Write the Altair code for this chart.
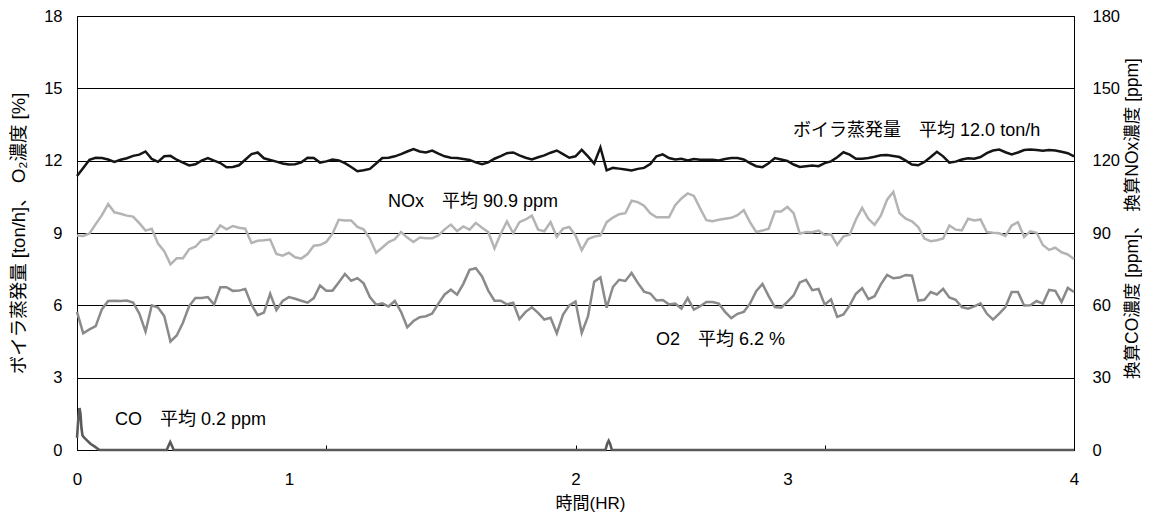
import altair as alt
import pandas as pd

# ---- data ----
hours = [round(i * 0.025, 3) for i in range(161)]

steam_ton_h = [
    11.36, 11.70, 12.04, 12.12, 12.11, 12.05, 11.95, 12.04, 12.10, 12.20,
    12.25, 12.38, 12.07, 11.95, 12.18, 12.20, 12.04, 11.92, 11.80, 11.85,
    12.00, 12.11, 12.00, 11.90, 11.73, 11.74, 11.81, 12.04, 12.27, 12.34,
    12.10, 12.03, 11.96, 11.88, 11.84, 11.85, 11.93, 12.12, 12.11, 11.92, 11.97,
    12.05, 12.01, 11.90, 11.74, 11.56, 11.60, 11.66, 11.88, 12.11, 12.12,
    12.18, 12.27, 12.38, 12.48, 12.38, 12.34, 12.42, 12.29, 12.18, 12.12,
    12.11, 12.07, 12.03, 11.93, 11.85, 11.93, 12.08, 12.19, 12.31, 12.34,
    12.22, 12.12, 12.05, 12.14, 12.22, 12.33, 12.42, 12.27, 12.12, 12.18,
    12.45, 12.18, 11.88, 12.55, 11.60, 11.70, 11.67, 11.63, 11.59, 11.66,
    11.70, 11.86, 12.18, 12.26, 12.11, 12.05, 12.08, 12.01, 12.07, 12.04,
    12.04, 12.04, 12.01, 12.07, 12.11, 12.11, 12.05, 11.90, 11.77, 11.73,
    11.89, 12.11, 12.05, 11.99, 11.84, 11.74, 11.77, 11.80, 11.77, 11.90,
    11.97, 12.14, 12.35, 12.25, 12.08, 12.08, 12.11, 12.16, 12.22, 12.23,
    12.19, 12.15, 12.00, 11.84, 11.81, 11.95, 12.15, 12.37, 12.18, 11.92,
    11.96, 12.05, 12.10, 12.08, 12.15, 12.31, 12.42, 12.46, 12.35, 12.26,
    12.34, 12.44, 12.46, 12.44, 12.41, 12.44, 12.42, 12.37, 12.31, 12.18,
]

nox_ppm = [
    89.0, 88.8, 89.8, 93.7, 97.4, 102.0, 98.6, 98.0, 97.2, 96.8,
    94.1, 91.0, 91.8, 85.6, 82.5, 77.0, 79.5, 79.5, 83.3, 84.3,
    87.0, 87.4, 89.5, 93.1, 91.5, 92.9, 92.2, 91.8, 85.9, 86.8,
    87.0, 87.3, 81.3, 80.6, 81.8, 79.9, 79.4, 81.3, 84.7, 85.0, 86.3,
    89.7, 95.5, 95.2, 95.2, 92.5, 91.5, 87.7, 81.8, 84.0, 86.2,
    87.4, 90.4, 88.1, 86.3, 88.1, 87.8, 87.8, 89.0, 91.5, 93.5,
    90.8, 92.7, 91.4, 94.2, 92.2, 90.4, 83.6, 89.7, 94.8, 89.9,
    94.5, 95.6, 97.2, 91.4, 90.7, 94.5, 88.4, 91.8, 92.5, 89.0,
    82.9, 87.5, 88.5, 89.0, 94.5, 96.4, 97.8, 98.2, 103.4, 102.8,
    101.3, 98.2, 96.5, 96.5, 96.5, 101.5, 104.3, 106.4, 105.4, 100.2,
    95.3, 94.9, 95.5, 95.9, 96.3, 97.4, 99.5, 94.5, 90.4, 91.0,
    91.8, 98.9, 98.9, 100.8, 98.2, 89.7, 90.4, 90.3, 91.0, 89.2,
    89.5, 85.0, 88.6, 89.3, 95.6, 100.4, 95.9, 93.4, 97.2, 103.8,
    107.0, 98.2, 95.9, 94.8, 92.5, 87.7, 86.6, 87.0, 87.7, 93.1,
    91.4, 91.1, 95.9, 95.2, 95.6, 90.4, 90.1, 89.9, 88.8, 93.1,
    94.5, 88.4, 90.7, 90.1, 85.0, 83.0, 83.9, 82.0, 81.1, 79.2,
]

o2_pct = [
    5.73, 4.84, 5.00, 5.14, 5.84, 6.18, 6.19, 6.18, 6.20, 6.12,
    5.66, 4.91, 6.00, 5.91, 5.56, 4.50, 4.75, 5.28, 5.97, 6.30,
    6.30, 6.34, 6.03, 6.75, 6.75, 6.60, 6.61, 6.68, 6.03, 5.59,
    5.70, 6.48, 5.80, 6.18, 6.34, 6.27, 6.19, 6.11, 6.30, 6.82, 6.61,
    6.61, 6.95, 7.30, 7.02, 7.13, 6.91, 6.34, 6.03, 6.08, 5.95,
    6.18, 5.73, 5.09, 5.35, 5.51, 5.55, 5.66, 6.07, 6.45, 6.65,
    6.44, 6.89, 7.47, 7.54, 7.20, 6.61, 6.19, 6.19, 6.04, 6.11,
    5.43, 5.73, 5.92, 5.69, 5.41, 5.48, 4.84, 5.62, 6.00, 6.16,
    4.85, 5.54, 6.98, 7.16, 5.90, 6.76, 7.06, 7.01, 7.34, 6.93,
    6.57, 6.49, 6.20, 6.22, 6.04, 6.07, 5.86, 6.30, 5.82, 5.96,
    6.14, 6.14, 6.07, 5.73, 5.47, 5.65, 5.73, 6.07, 6.59, 6.89,
    6.38, 5.93, 5.90, 6.14, 6.41, 6.95, 7.06, 6.63, 6.68, 6.03,
    6.25, 5.52, 5.62, 6.00, 6.48, 6.71, 6.26, 6.38, 6.87, 7.26,
    7.12, 7.15, 7.26, 7.23, 6.20, 6.23, 6.55, 6.45, 6.68, 6.33,
    6.23, 5.93, 5.86, 5.96, 6.08, 5.66, 5.41, 5.66, 5.93, 6.55,
    6.55, 5.99, 6.00, 6.18, 6.07, 6.64, 6.60, 6.14, 6.72, 6.55,
]

co_hours = [0.0, 0.006, 0.010, 0.014, 0.018, 0.022, 0.03, 0.04, 0.055, 0.07, 0.09,
            0.36, 0.368, 0.374, 0.38, 0.388,
            2.12, 2.127, 2.133, 2.139, 2.146, 4.0]
co_ppm = [5.0, 14.0, 17.4, 15.0, 9.0, 6.0, 5.0, 4.0, 2.5, 1.5, 0.0,
          0.0, 2.0, 3.3, 2.0, 0.0,
          0.0, 2.5, 3.8, 2.5, 0.0, 0.0]

ann_text = ["ボイラ蒸発量　平均 12.0 ton/h", "NOx　平均 90.9 ppm", "O2　平均 6.2 %", "CO　平均 0.2 ppm"]
ann_hours = [2.873, 1.248, 2.323, 0.152]
ann_level = [13.24, 10.28, 4.57, 1.25]

x_label_values = [0, 0.85, 2, 2.85, 4]
x_tick_values = [1, 2, 3]
left_ticks = [0, 3, 6, 9, 12, 15, 18]
right_ticks = [0, 30, 60, 90, 120, 150, 180]

df = pd.DataFrame({"hours": hours, "steam": steam_ton_h, "o2": o2_pct, "nox": nox_ppm})
co_df = pd.DataFrame({"hours": co_hours, "co": co_ppm})
ann_df = pd.DataFrame({"hours": ann_hours, "level": ann_level, "label": ann_text})

FONT = "Liberation Sans, Noto Sans CJK JP"

xscale = alt.Scale(domain=[0, 4], nice=False, zero=False)
left_scale = alt.Scale(domain=[0, 18], nice=False)
right_scale = alt.Scale(domain=[0, 180], nice=False)

x_label_axis = alt.Axis(
    values=x_label_values, labelExpr="round(datum.value)", title="時間(HR)",
    grid=False, ticks=False, tickSize=0, domain=False, labelFlush=False,
    labelPadding=21, labelFontSize=17, labelFont=FONT, labelColor="black",
    titleFont=FONT, titleFontSize=17, titleFontWeight="normal", titleColor="black",
    titleX=513, titleY=53, titleBaseline="middle", titleAlign="center", orient="bottom",
)
x_tick_axis = alt.Axis(
    values=x_tick_values, labels=False, title="", grid=False, domain=False,
    ticks=True, tickSize=5, offset=-5, tickColor="black", tickWidth=1, orient="bottom",
)
left_axis = alt.Axis(
    values=left_ticks, title="ボイラ蒸発量 [ton/h]、 O₂濃度 [%]",
    grid=True, gridColor="black", gridWidth=1.2, gridOpacity=1,
    ticks=False, domain=True, domainColor="black", domainWidth=1,
    labelPadding=15, labelFontSize=16.5, labelFont=FONT, labelColor="black",
    titleAngle=270, titleX=-59, titleY=217, titleAlign="center", titleBaseline="middle",
    titleFont=FONT, titleFontSize=18.5, titleFontWeight="normal", titleColor="black",
    orient="left",
)
right_axis = alt.Axis(
    values=right_ticks, title="換算CO濃度 [ppm]、 換算NOx濃度 [ppm]",
    grid=False, ticks=False, domain=True, domainColor="black", domainWidth=1,
    labelPadding=18, labelFontSize=16.5, labelFont=FONT, labelColor="black",
    titleAngle=270, titleX=58, titleY=202, titleAlign="center", titleBaseline="middle",
    titleFont=FONT, titleFontSize=17.5, titleFontWeight="normal", titleColor="black",
    orient="right",
)

xl = alt.X("hours:Q", scale=xscale, axis=x_label_axis)
xt = alt.X("hours:Q", scale=xscale, axis=x_tick_axis)

steam_line = alt.Chart(df).mark_line(color="#151515", strokeWidth=2.5).encode(
    x=xl, y=alt.Y("steam:Q", scale=left_scale, axis=left_axis))
o2_line = alt.Chart(df).mark_line(color="#8a8a8a", strokeWidth=2.5).encode(
    x=xl, y=alt.Y("o2:Q", scale=left_scale, axis=left_axis))
labels = alt.Chart(ann_df).mark_text(
    align="left", baseline="middle", font=FONT, fontSize=18, color="black").encode(
    x=xl, y=alt.Y("level:Q", scale=left_scale, axis=left_axis), text="label:N")

left = alt.layer(steam_line, o2_line, labels)

nox_line = alt.Chart(df).mark_line(color="#b4b4b4", strokeWidth=2.5).encode(
    x=xt, y=alt.Y("nox:Q", scale=right_scale, axis=right_axis))
co_line = alt.Chart(co_df).mark_line(color="#5a5a5a", strokeWidth=2.6).encode(
    x=xt, y=alt.Y("co:Q", scale=right_scale, axis=right_axis))

right = alt.layer(nox_line, co_line)

chart = (
    alt.layer(left, right)
    .resolve_scale(y="independent")
    .resolve_axis(x="independent", y="independent")
    .properties(
        width=997, height=434,
        padding={"left": 69, "top": 8, "right": 68, "bottom": 62},
        autosize=alt.AutoSizeParams(type="none"),
        background="white",
    )
    .configure_view(stroke="black", strokeWidth=1)
)

chart.save("out.html", embed_options={"renderer": "svg", "actions": False})
